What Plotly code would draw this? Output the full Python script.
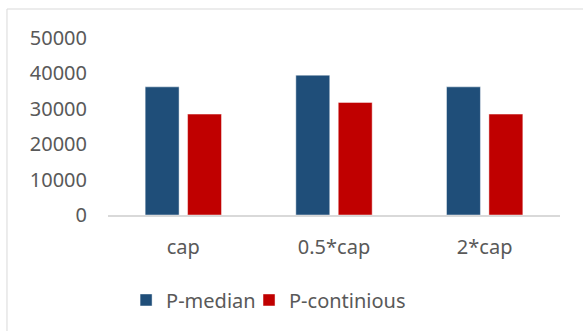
import plotly.graph_objects as go

categories = ["cap", "0.5*cap", "2*cap"]
p_median = [36200, 39500, 36200]
p_continious = [28500, 31800, 28500]

text_color = "#595959"
font_family = "Noto Sans"

fig = go.Figure()
fig.add_trace(go.Bar(
    name="P-median", x=categories, y=p_median, legend="legend",
    marker=dict(color="#1F4E79", line=dict(color="rgba(255,255,255,0.6)", width=0.75)),
))
fig.add_trace(go.Bar(
    name="P-continious", x=categories, y=p_continious, legend="legend2",
    marker=dict(color="#C00000", line=dict(color="rgba(255,255,255,0.6)", width=0.75)),
))

# outer chart-area frame
fig.add_shape(type="rect", xref="paper", yref="paper",
              x0=-0.2235, x1=2, y0=-2, y1=1.1638,
              line=dict(color="#D9D9D9", width=1), fillcolor="rgba(0,0,0,0)", layer="below")

legend_common = dict(orientation="h", xanchor="left", y=-0.48, yanchor="middle",
                     font=dict(size=20, color=text_color), itemwidth=30,
                     bgcolor="rgba(0,0,0,0)")

fig.update_layout(
    width=583, height=331,
    margin=dict(l=108, r=23, t=38, b=116, pad=0),
    paper_bgcolor="white", plot_bgcolor="white",
    barmode="group", bargap=0.437, bargroupgap=0.2,
    font=dict(family=font_family, size=20, color=text_color),
    showlegend=True,
    legend=dict(x=0.04, **legend_common),
    legend2=dict(x=0.312, **legend_common),
    xaxis=dict(showgrid=False, showline=True, linecolor="#D9D9D9", linewidth=1.5,
               ticks="", ticklabelstandoff=13, tickfont=dict(size=20, color=text_color),
               zeroline=False),
    yaxis=dict(range=[0, 50000], dtick=10000, showgrid=False, zeroline=False,
               showline=False, ticks="", ticklabelstandoff=20,
               tickfont=dict(size=20, color=text_color), tickformat="d"),
)

fig.write_html("out.html")
